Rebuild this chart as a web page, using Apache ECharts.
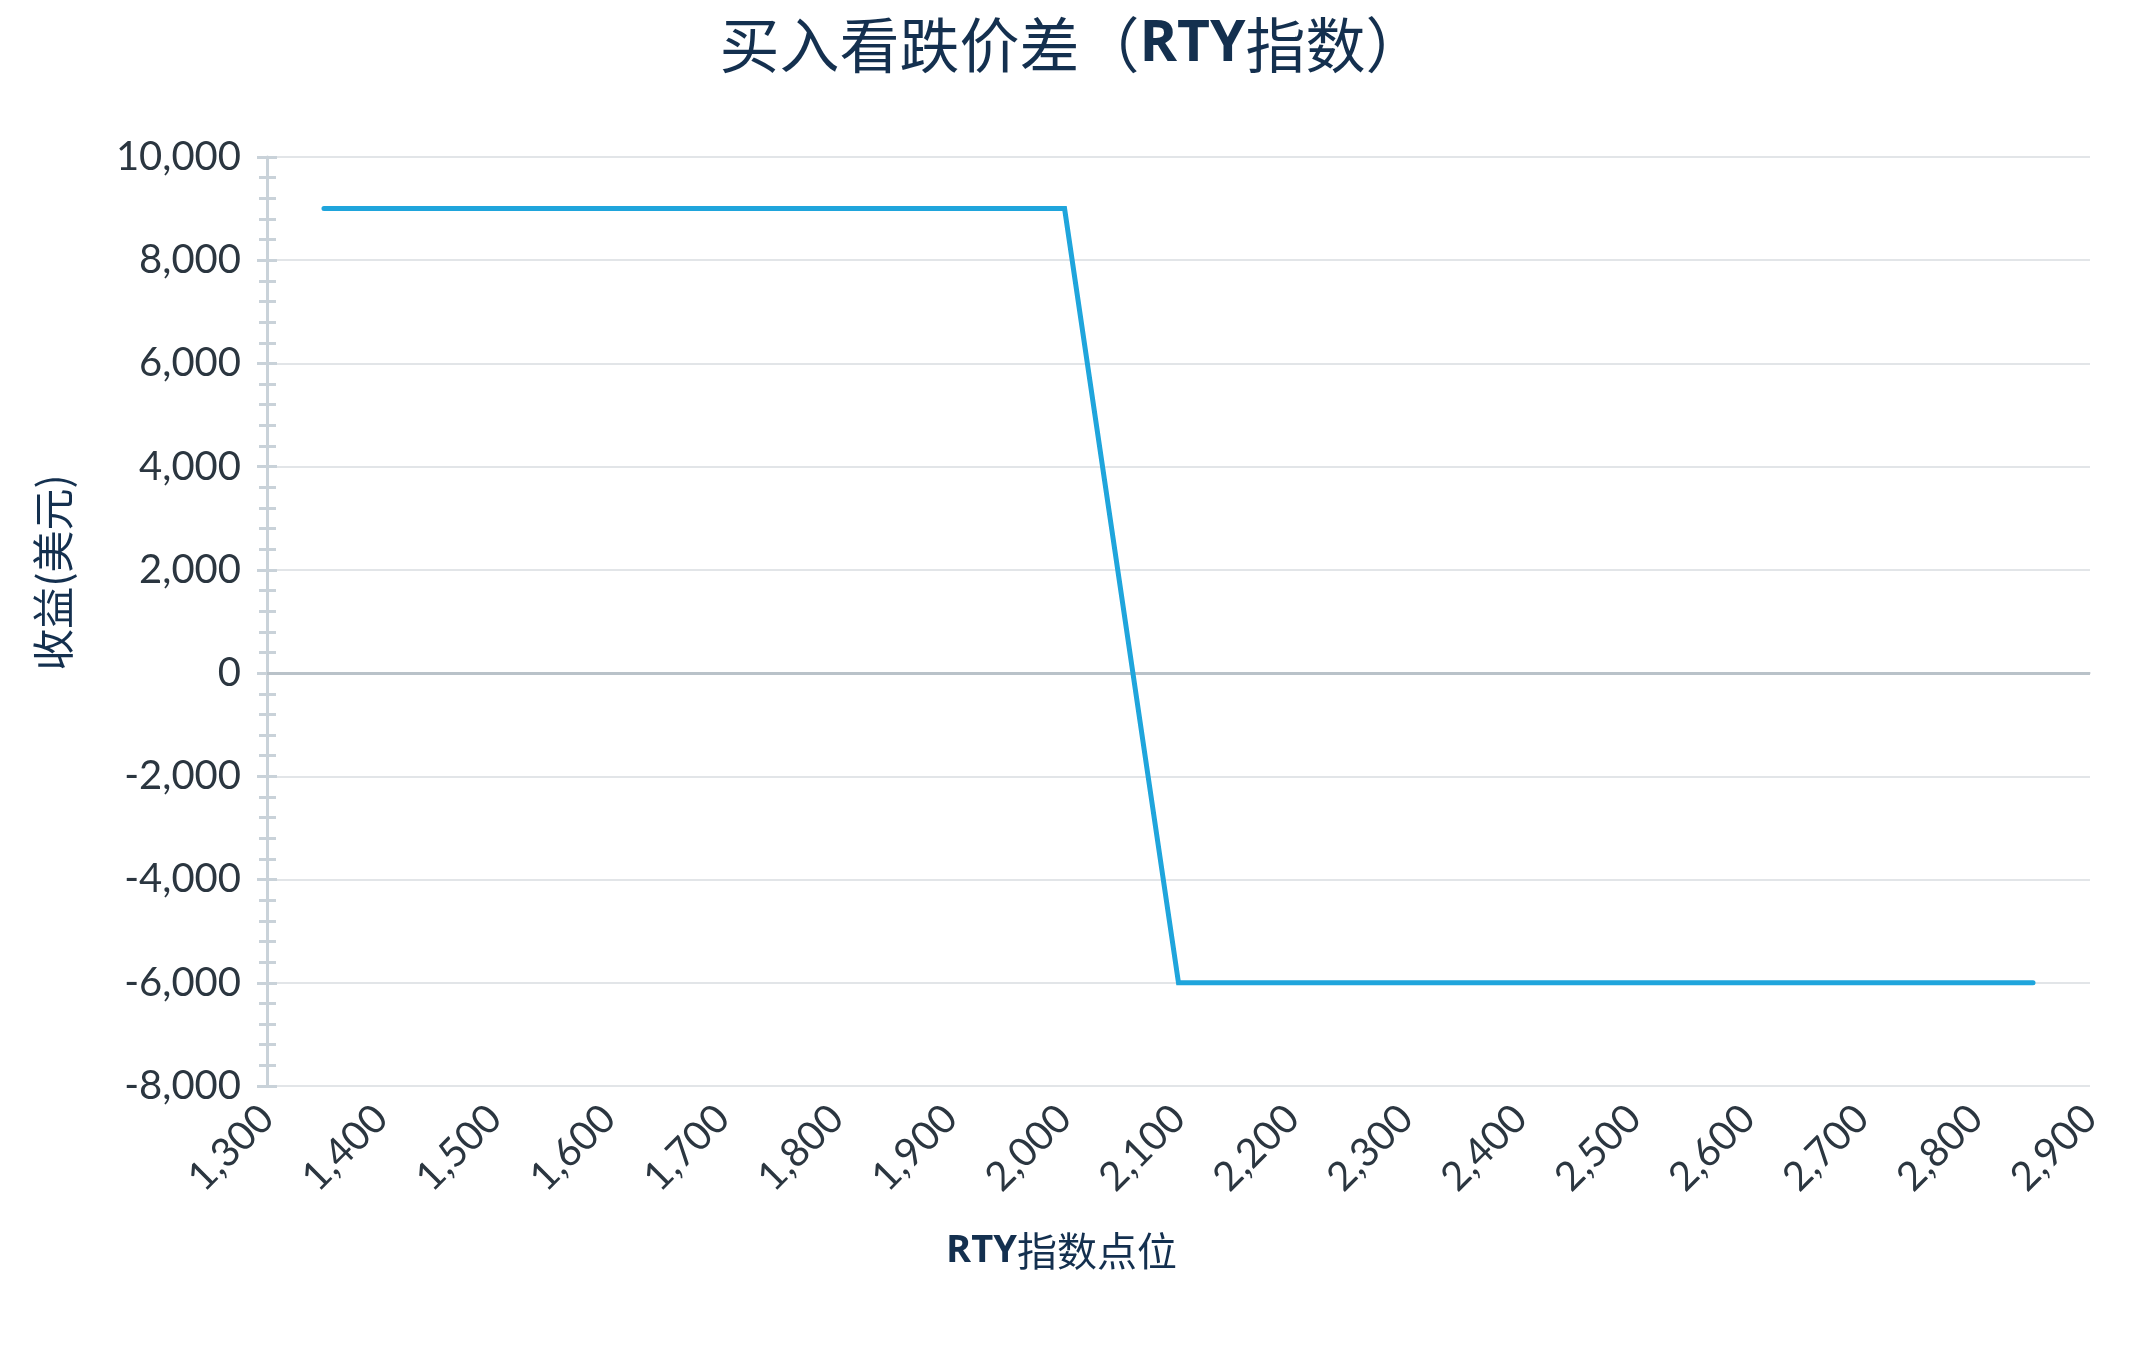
<!DOCTYPE html>
<html>
<head>
<meta charset="utf-8">
<script src="https://cdn.jsdelivr.net/npm/echarts@6/dist/echarts.min.js"></script>
<style>
  html, body { margin: 0; padding: 0; background: #fff; }
  #main { width: 2145px; height: 1369px; }
</style>
</head>
<body>
<div id="main"></div>
<script>
// 数据
var rtyLevels = [1350, 2000, 2100, 2850];
var payoffs = [9000, 9000, -6000, -6000];
var xRange = [1300, 2900, 100];
var yRange = [-8000, 10000, 2000];

var navy = '#14304f';
var tickGray = '#c9d2d9';
var gridGray = '#e2e5e8';

function commas(v) {
    return String(v).replace(/\B(?=(\d{3})+(?!\d))/g, ',');
}

var myChart = echarts.init(document.getElementById('main'));

var option = {
    animation: false,
    title: {
        text: '买入看跌价差（{b|RTY}指数）',
        left: 'center',
        top: 10,
        textStyle: {
            color: navy,
            fontSize: 60,
            fontWeight: 'normal',
            fontFamily: 'Noto Sans CJK SC',
            rich: {
                b: {
                    color: navy,
                    fontSize: 57,
                    fontWeight: 'bold',
                    fontFamily: 'Open Sans'
                }
            }
        }
    },
    grid: {
        left: 267,
        right: 55,
        top: 157,
        bottom: 283
    },
    xAxis: {
        type: 'value',
        min: xRange[0],
        max: xRange[1],
        interval: xRange[2],
        name: '{b|RTY}指数点位',
        nameLocation: 'middle',
        nameGap: 145,
        nameTextStyle: {
            color: navy,
            fontSize: 40,
            fontFamily: 'Noto Sans CJK SC',
            padding: [0, 234, 0, 0],
            rich: {
                b: {
                    color: navy,
                    fontSize: 38,
                    fontWeight: 'bold',
                    fontFamily: 'Open Sans'
                }
            }
        },
        axisLine: { show: true, lineStyle: { color: gridGray, width: 2 } },
        axisTick: { show: false },
        splitLine: { show: false },
        axisLabel: {
            rotate: 45,
            margin: 26,
            color: '#2b3640',
            fontSize: 40,
            fontFamily: 'Lato',
            formatter: commas
        }
    },
    yAxis: [
        {
            type: 'value',
            min: yRange[0],
            max: yRange[1],
            interval: yRange[2],
            name: '收益(美元)',
            nameLocation: 'middle',
            nameGap: 193,
            nameTextStyle: {
                color: navy,
                fontSize: 42,
                fontFamily: 'Noto Sans CJK SC',
                padding: [0, 0, 0, 98]
            },
            axisLine: { show: true, lineStyle: { color: tickGray, width: 3 } },
            axisTick: { show: true, length: 10, lineStyle: { color: tickGray, width: 3 } },
            minorTick: { show: true, splitNumber: 5, length: 8, lineStyle: { color: tickGray, width: 3 } },
            splitLine: { show: true, lineStyle: { color: gridGray, width: 2 } },
            axisLabel: {
                margin: 26,
                color: '#2b3640',
                fontSize: 40,
                fontFamily: 'Lato',
                formatter: commas
            }
        },
        {
            // 轴内侧的刻度
            type: 'value',
            position: 'left',
            offset: 0,
            min: yRange[0],
            max: yRange[1],
            interval: yRange[2],
            axisLine: { show: false },
            axisTick: { show: true, inside: true, length: 10, lineStyle: { color: tickGray, width: 3 } },
            minorTick: { show: true, splitNumber: 5, length: 9, lineStyle: { color: tickGray, width: 3 } },
            splitLine: { show: false },
            axisLabel: { show: false }
        }
    ],
    series: [
        {
            type: 'line',
            data: rtyLevels.map(function (x, i) { return [x, payoffs[i]]; }),
            showSymbol: false,
            symbol: 'none',
            lineStyle: { color: '#1fa5dc', width: 5, cap: 'round', join: 'miter' },
            z: 5,
            markLine: {
                silent: true,
                symbol: 'none',
                label: { show: false },
                lineStyle: { color: '#b9c2c9', width: 3, type: 'solid' },
                data: [{ yAxis: 0 }],
                z: 3
            }
        }
    ]
};

myChart.setOption(option);
</script>
</body>
</html>
